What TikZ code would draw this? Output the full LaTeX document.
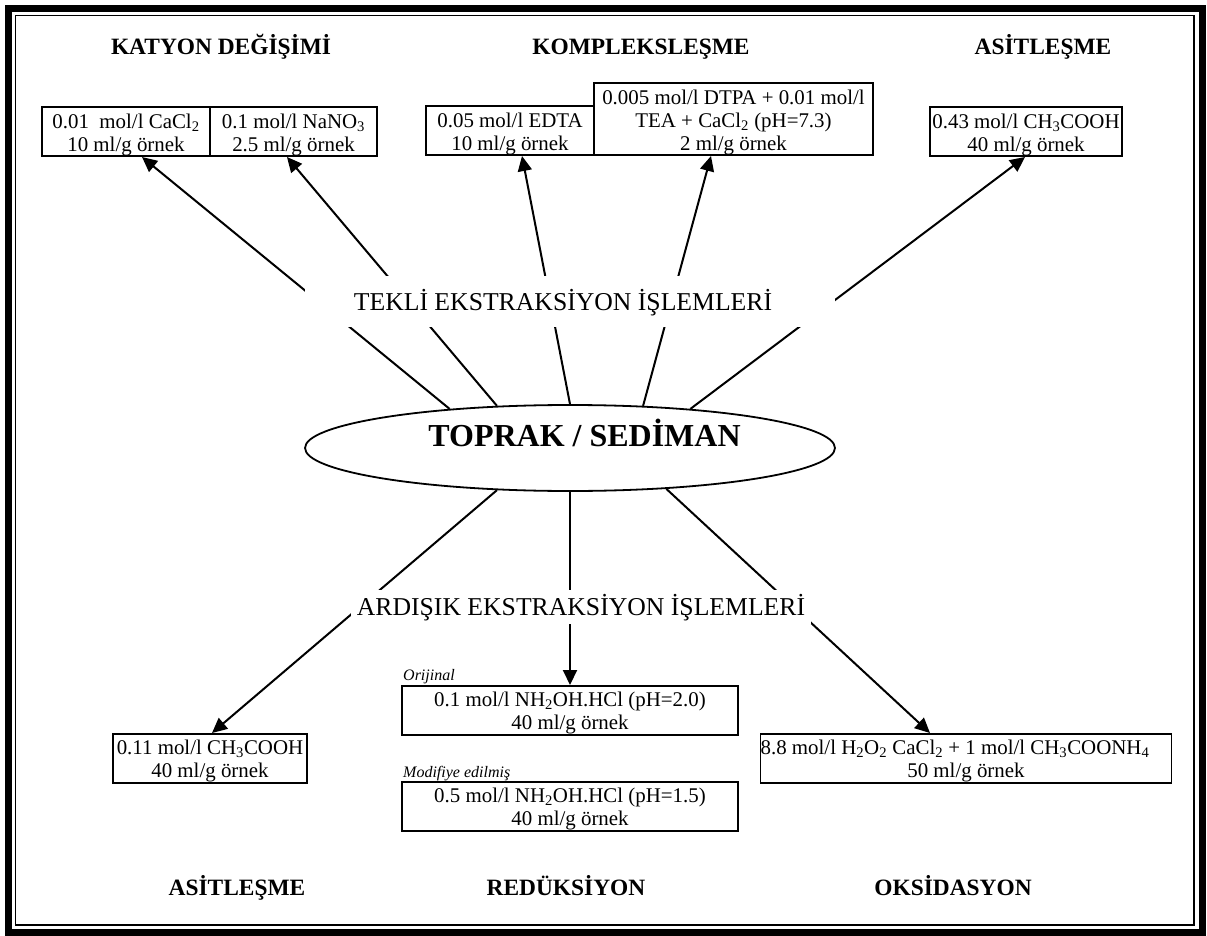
\documentclass[tikz,border=0pt]{standalone}
\usepackage{fontspec}
\setmainfont{Liberation Serif}
\usetikzlibrary{arrows.meta,shapes.geometric}
\tikzset{
  bx/.style={draw, line width=1.6pt, inner sep=0pt, align=center, font=\fontsize{20.9}{23}\selectfont},
  hd/.style={font=\fontsize{23.4}{26}\selectfont\bfseries, inner sep=0pt, anchor=base},
  mid/.style={font=\fontsize{25.7}{29}\selectfont, inner sep=0pt, anchor=base},
  note/.style={font=\fontsize{16}{18}\selectfont\itshape, inner sep=0pt, anchor=base west},
  arr/.style={line width=2pt, -{Triangle[length=15pt,width=14pt]}},
}
\newcommand\tst{\rule{0pt}{21pt}}
\newcommand\bst{\rule[-5pt]{0pt}{5pt}}
\begin{document}
\begin{tikzpicture}[x=1pt,y=-1pt]
\useasboundingbox (0,0) rectangle (1207,936);
\fill[white] (0,0) rectangle (1207,936);
% double frame
\draw[line width=7pt] (8.5,8.5) rectangle (1202,932);
\draw[line width=1.5pt] (15.5,15.5) rectangle (1194,925);

% group headings
\node[hd] (hkat) at (221,55) {KATYON DEĞİŞİMİ};
\node[hd] (hkom) at (641,55) {KOMPLEKSLEŞME};
\node[hd] (hasi) at (1043,55) {ASİTLEŞME};
\node[hd] (hasb) at (237,895) {ASİTLEŞME};
\node[hd] (hred) at (566,895) {REDÜKSİYON};
\node[hd] (hoks) at (953,895) {OKSİDASYON};

% single extraction reagents
\node[bx, minimum width=168pt, anchor=south] (cacl) at (126,157)
  {\tst 0.01\ \ mol/l CaCl\textsubscript{2}\\10 ml/g örnek\bst};
\node[bx, minimum width=167pt, anchor=south] (nano) at (293.5,157)
  {\tst 0.1 mol/l NaNO\textsubscript{3}\\2.5 ml/g örnek\bst};
\node[bx, minimum width=168pt, anchor=south] (edta) at (510,156)
  {\tst 0.05 mol/l EDTA\\10 ml/g örnek\bst};
\node[bx, minimum width=279pt, anchor=south] (dtpa) at (733.5,156)
  {\tst 0.005 mol/l DTPA + 0.01 mol/l\\TEA + CaCl\textsubscript{2} (pH=7.3)\\2 ml/g örnek\bst};
\node[bx, minimum width=192pt, anchor=south] (acet) at (1026,157)
  {\tst 0.43 mol/l CH\textsubscript{3}COOH\\40 ml/g örnek\bst};

% sequential extraction reagents
\node[bx, minimum width=194pt, anchor=north] (acsq) at (210,733)
  {\tst 0.11 mol/l CH\textsubscript{3}COOH\\40 ml/g örnek\bst};
\node[bx, minimum width=336pt, anchor=north] (orig) at (570,685)
  {\tst 0.1 mol/l NH\textsubscript{2}OH.HCl (pH=2.0)\\40 ml/g örnek\bst};
\node[bx, minimum width=336pt, anchor=north] (modf) at (570,781)
  {\tst 0.5 mol/l NH\textsubscript{2}OH.HCl (pH=1.5)\\40 ml/g örnek\bst};
\node[bx, minimum width=408pt, anchor=north] (oxid) at (966,733)
  {\tst 8.8 mol/l H\textsubscript{2}O\textsubscript{2} CaCl\textsubscript{2} + 1 mol/l CH\textsubscript{3}COONH\textsubscript{4}\hspace*{22pt}\\50 ml/g örnek\bst};
\node[note] (norig) at (403,680) {Orijinal};
\node[note] (nmodf) at (403,777) {Modifiye edilmiş};

% central sample
\node[ellipse, draw, line width=1.8pt, fill=white, minimum width=530pt,
      minimum height=86pt, inner sep=0pt] (soil) at (570,448) {};
\node[font=\fontsize{32}{36}\selectfont\bfseries, anchor=base, inner sep=0pt]
  (title) at (584.5,446.7) {TOPRAK / SEDİMAN};

% connectors
\draw[arr] (soil.162) -- ([xshift=16pt]cacl.south);
\draw[arr] (soil.150) -- ([xshift=-6.5pt]nano.south);
\draw[arr] (soil.90) -- ([xshift=12pt]edta.south);
\draw[arr] (soil.30) -- ([xshift=-22.5pt]dtpa.south);
\draw[arr] (soil.18) -- ([xshift=-1pt]acet.south);
\draw[arr] (soil.210) -- ([xshift=2pt]acsq.north);
\draw[arr] (soil.270) -- (orig.north);
\draw[arr] (soil.337) -- ([xshift=-36pt]oxid.north);

% method labels laid over the connectors
\node[fill=white, minimum width=530pt, minimum height=51pt, inner sep=0pt]
  (band) at (570,301.5) {};
\node[mid] (tekli) at (563,310) {TEKLİ EKSTRAKSİYON İŞLEMLERİ};
\node[mid, fill=white, text height=24pt, text depth=7pt, inner xsep=6pt, inner ysep=1.5pt]
  (ardisik) at (581,615) {ARDIŞIK EKSTRAKSİYON İŞLEMLERİ};
\end{tikzpicture}
\end{document}
